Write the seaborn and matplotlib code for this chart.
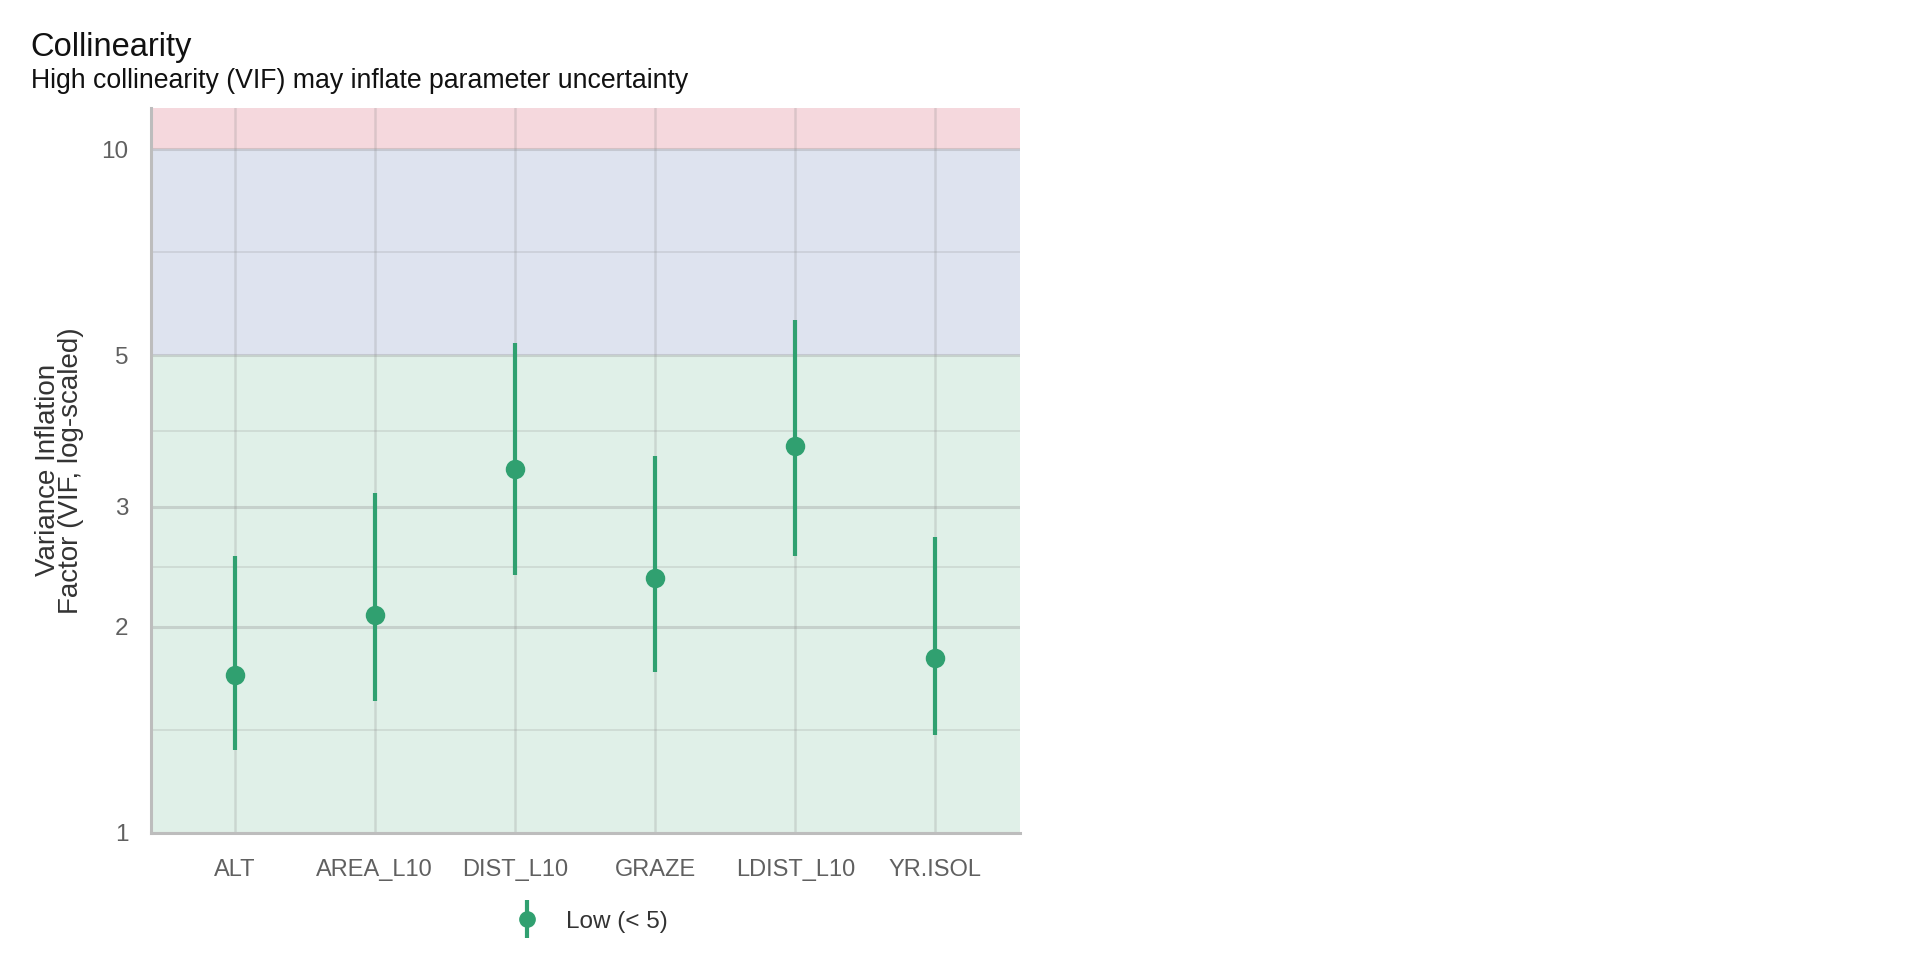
import numpy as np
import pandas as pd
import matplotlib
matplotlib.use('Agg')
import matplotlib.pyplot as plt
from matplotlib.lines import Line2D
import seaborn as sns

# values
terms = ['ALT', 'AREA_L10', 'DIST_L10', 'GRAZE', 'LDIST_L10', 'YR.ISOL']
vif = [1.70, 2.08, 3.41, 2.36, 3.68, 1.80]
vif_low = [1.32, 1.56, 2.38, 1.72, 2.54, 1.39]
vif_high = [2.54, 3.14, 5.21, 3.56, 5.63, 2.71]
level = ['Low (< 5)'] * len(terms)

y_ticks = [1, 2, 3, 5, 10]
y_minor = [1.414, 2.449, 3.873, 7.071]
band_edges = [1, 5, 10, 11.5]
band_colors = ['#e0f0e8', '#dee3ef', '#f5d8dd']

point_color = '#30a070'

df = pd.DataFrame({'term': terms, 'vif': vif, 'low': vif_low,
                   'high': vif_high, 'level': level})

sns.set_theme(style='white')
plt.rcParams['font.family'] = ['Liberation Sans', 'DejaVu Sans']

fig = plt.figure(figsize=(19.2, 9.6), dpi=100)
ax = fig.add_axes([0.0784, 0.1326, 0.4526, 0.7551])

# background bands for VIF levels
for lo, hi, col in zip(band_edges[:-1], band_edges[1:], band_colors):
    ax.axhspan(lo, hi, color=col, zorder=0, lw=0)

ax.set_yscale('log')

# grid lines on top of bands
for t in y_ticks:
    ax.axhline(t, color='#8c8c8c', alpha=0.3, lw=2.2, zorder=1)
for t in y_minor:
    ax.axhline(t, color='#8c8c8c', alpha=0.2, lw=1.4, zorder=1)
for i in range(len(terms)):
    ax.axvline(i, color='#8c8c8c', alpha=0.25, lw=1.8, zorder=1)

# intervals
pos = np.arange(len(terms))
ax.vlines(pos, df['low'], df['high'], color=point_color, lw=3.0, zorder=3)

sns.pointplot(data=df, x='term', y='vif', hue='level',
              palette={'Low (< 5)': point_color}, linestyle='none',
              errorbar=None, markersize=12, ax=ax, legend=False, zorder=4)

ax.set_xlim(-0.6, len(terms) - 0.4)
ax.set_ylim(band_edges[0], band_edges[-1])
ax.set_yticks(y_ticks)
ax.set_yticklabels([str(t) for t in y_ticks])
ax.yaxis.set_minor_locator(matplotlib.ticker.NullLocator())
ax.grid(False)

ax.tick_params(axis='x', length=0, pad=19, labelsize=17, labelcolor='#606060')
ax.tick_params(axis='y', length=0, pad=16, labelsize=17.5, labelcolor='#606060')
ax.set_xlabel('')
ax.set_ylabel('Variance Inflation\nFactor (VIF, log-scaled)', fontsize=20,
              color='#333333', linespacing=0.82)
ax.yaxis.set_label_coords(-0.077, 0.5)

for side in ['top', 'right']:
    ax.spines[side].set_visible(False)
for side in ['left', 'bottom']:
    ax.spines[side].set_color('#bdbdbd')
    ax.spines[side].set_linewidth(2.2)

# legend: point with vertical interval
h_line = Line2D([], [], marker='|', markersize=27, markeredgewidth=3,
                color=point_color, linestyle='none')
h_pt = Line2D([], [], marker='o', markersize=11, color=point_color,
              linestyle='none')
fig.legend([(h_line, h_pt)], ['Low (< 5)'], loc='center',
           bbox_to_anchor=(0.305, 0.040), frameon=False, fontsize=17.5,
           handletextpad=0.6, labelcolor='#333333')

fig.text(0.016, 0.9413, 'Collinearity', fontsize=23.5, color='#111111',
         va='baseline', ha='left')
fig.text(0.016, 0.908, 'High collinearity (VIF) may inflate parameter uncertainty',
         fontsize=19.2, color='#111111', va='baseline', ha='left')

fig.savefig('out.png', dpi=100)
